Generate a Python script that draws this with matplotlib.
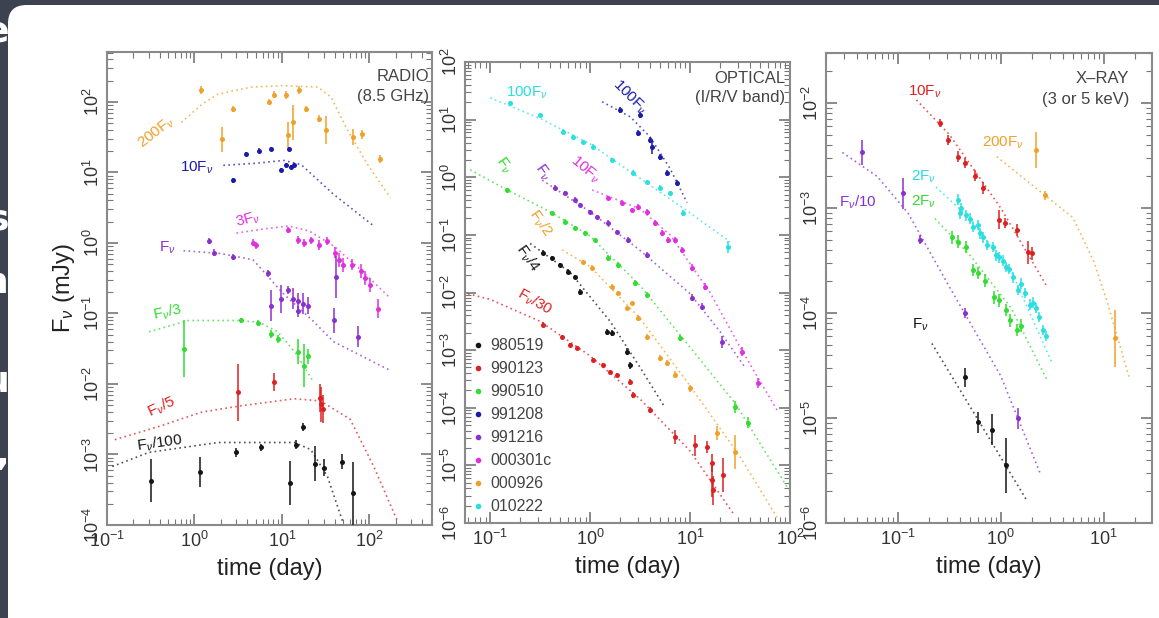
import numpy as np
import matplotlib
matplotlib.use('Agg')
import matplotlib.pyplot as plt
from matplotlib.ticker import LogLocator, NullFormatter
from matplotlib.patches import FancyBboxPatch
from matplotlib.lines import Line2D

plt.rcParams['font.family'] = ['Liberation Sans', 'DejaVu Sans']
plt.rcParams['mathtext.fontset'] = 'custom'
plt.rcParams['mathtext.rm'] = 'Liberation Sans'
plt.rcParams['mathtext.it'] = 'Liberation Sans:italic'
plt.rcParams['mathtext.bf'] = 'Liberation Sans:bold'

## Data (log10 of time in days, log10 of flux in mJy, error in dex)
# colours per burst
C_BLACK = '#151515'    # 980519
C_RED = '#dd2020'      # 990123
C_GREEN = '#30dd30'    # 990510
C_BLUE = '#1c1caa'     # 991208
C_PURPLE = '#8a30d0'   # 991216
C_MAGENTA = '#e22ee0'  # 000301c
C_ORANGE = '#f0a028'   # 000926
C_CYAN = '#28e0e0'     # 010222

legend_names = ['980519', '990123', '990510', '991208', '991216', '000301c', '000926', '010222']
legend_colors = [C_BLACK, C_RED, C_GREEN, C_BLUE, C_PURPLE, C_MAGENTA, C_ORANGE, C_CYAN]

# --- RADIO (8.5 GHz) ---
radio_orange_lt = [0.08, 0.44, 0.31, 0.85, 0.91, 1.05, 1.19, 1.07, 1.125, 1.27, 1.42, 1.50, 1.81, 1.92, 2.125]
radio_orange_lf = [2.17, 1.90, 1.47, 2.00, 2.10, 2.10, 2.17, 1.53, 1.71, 1.90, 1.76, 1.60, 1.50, 1.54, 1.19]
radio_orange_err = [0.06, 0.04, 0.18, 0.04, 0.05, 0.06, 0.06, 0.18, 0.25, 0.04, 0.05, 0.20, 0.11, 0.06, 0.06]
radio_orange_mod_lt = [-0.15, 0.10, 0.27, 0.65, 1.00, 1.41, 1.56, 1.75, 1.98, 2.24]
radio_orange_mod_lf = [1.71, 1.98, 2.11, 2.21, 2.23, 2.21, 2.07, 1.60, 1.11, 0.64]

radio_blue_lt = [0.44, 0.59, 0.74, 0.875, 1.08, 0.99, 1.05, 1.14, 1.10]
radio_blue_lf = [0.886, 1.26, 1.31, 1.33, 1.33, 1.03, 1.10, 1.10, 1.08]
radio_blue_err = [0.03, 0.03, 0.03, 0.03, 0.03, 0.03, 0.03, 0.03, 0.03]
radio_blue_mod_lt = [0.33, 0.70, 1.02, 1.22, 1.59, 2.05]
radio_blue_mod_lf = [1.10, 1.13, 1.17, 1.11, 0.69, 0.24]

radio_magenta_lt = [0.67, 0.70, 1.07, 1.18, 1.25, 1.33, 1.42, 1.52, 1.61, 1.65, 1.70, 1.80, 1.90, 1.95, 2.01, 2.10]
radio_magenta_lf = [0.0, -0.03, 0.186, 0.04, 0.0, 0.04, -0.03, 0.03, -0.14, -0.24, -0.31, -0.31, -0.40, -0.50, -0.60, -0.93]
radio_magenta_err = [0.05, 0.05, 0.04, 0.06, 0.06, 0.05, 0.07, 0.06, 0.08, 0.10, 0.10, 0.08, 0.10, 0.10, 0.10, 0.14]
radio_magenta_mod_lt = [0.48, 0.80, 1.08, 1.31, 1.60, 1.90, 2.22]
radio_magenta_mod_lf = [0.14, 0.20, 0.24, 0.17, -0.05, -0.38, -0.76]

radio_purple_lt = [0.17, 0.22, 0.44, 0.84, 0.875, 0.99, 1.07, 1.125, 1.18, 1.24, 1.30, 1.18, 1.59, 1.62, 1.875]
radio_purple_lf = [0.03, -0.14, -0.20, -0.43, -0.89, -0.79, -0.67, -0.79, -0.83, -0.86, -0.89, -0.97, -1.10, -0.48, -1.33]
radio_purple_err = [0.04, 0.05, 0.04, 0.05, 0.22, 0.20, 0.06, 0.15, 0.12, 0.15, 0.12, 0.08, 0.18, 0.30, 0.15]
radio_purple_mod_lt = [-0.125, 0.30, 0.67, 0.78, 1.00, 1.35, 1.59, 2.24]
radio_purple_mod_lf = [-0.11, -0.15, -0.24, -0.39, -0.70, -1.10, -1.40, -1.81]

radio_green_lt = [-0.125, 0.53, 0.73, 0.875, 0.95, 1.18, 1.25, 1.30]
radio_green_lf = [-1.50, -1.10, -1.14, -1.29, -1.36, -1.54, -1.74, -1.61]
radio_green_err = [0.40, 0.04, 0.04, 0.06, 0.06, 0.18, 0.30, 0.10]
radio_green_mod_lt = [-0.52, -0.07, 0.53, 0.75, 0.95, 1.15, 1.36]
radio_green_mod_lf = [-1.26, -1.10, -1.10, -1.13, -1.26, -1.55, -1.97]

radio_red_lt = [0.50, 0.91, 1.43, 1.45, 1.47]
radio_red_lf = [-2.12, -1.97, -2.20, -2.29, -2.35]
radio_red_err = [0.41, 0.13, 0.20, 0.25, 0.20]
radio_red_mod_lt = [-0.91, -0.40, 0.08, 0.53, 1.14, 1.44, 1.78, 2.05, 2.33]
radio_red_mod_lf = [-2.79, -2.60, -2.40, -2.31, -2.21, -2.24, -2.50, -3.17, -3.97]

radio_black_lt = [-0.50, 0.06, 0.47, 0.76, 1.09, 1.16, 1.24, 1.375, 1.48, 1.69, 1.81]
radio_black_lf = [-3.37, -3.25, -2.97, -2.90, -3.40, -2.86, -2.61, -3.13, -3.19, -3.10, -3.55]
radio_black_err = [0.30, 0.21, 0.06, 0.05, 0.31, 0.06, 0.05, 0.25, 0.12, 0.10, 0.45]
radio_black_mod_lt = [-0.94, -0.52, 0.27, 1.14, 1.33, 1.52, 1.70]
radio_black_mod_lf = [-3.17, -2.97, -2.83, -2.83, -2.93, -3.31, -3.97]

# --- OPTICAL (I/R/V band) ---
opt_cyan_lt = [-0.80, -0.50, -0.27, -0.17, -0.07, 0.03, 0.22, 0.43, 0.57, 0.70, 0.80, 0.93, 1.38]
opt_cyan_lf = [1.29, 1.08, 0.79, 0.70, 0.61, 0.53, 0.30, 0.08, -0.08, -0.18, -0.27, -0.62, -1.21]
opt_cyan_err = [0.04, 0.04, 0.04, 0.04, 0.04, 0.04, 0.04, 0.04, 0.04, 0.04, 0.04, 0.05, 0.10]
opt_cyan_mod_lt = [-1.0, -0.5, 0.0, 0.5, 1.0, 1.4]
opt_cyan_mod_lf = [1.38, 1.02, 0.58, -0.02, -0.62, -1.12]

opt_blue_lt = [0.30, 0.50, 0.48, 0.60, 0.62, 0.70, 0.77, 0.87]
opt_blue_lf = [1.17, 1.08, 0.77, 0.65, 0.53, 0.35, 0.08, -0.10]
opt_blue_err = [0.05, 0.05, 0.05, 0.05, 0.12, 0.05, 0.05, 0.05]
opt_blue_mod_lt = [0.12, 0.40, 0.60, 0.80, 0.97]
opt_blue_mod_lf = [1.31, 1.05, 0.70, 0.15, -0.44]

opt_purple_lt = [-0.35, -0.25, -0.15, -0.10, 0.0, 0.07, 0.18, 0.27, 0.38, 0.57, 1.02, 1.12, 1.32]
opt_purple_lf = [-0.18, -0.27, -0.39, -0.48, -0.60, -0.69, -0.79, -0.95, -1.09, -1.35, -2.09, -2.25, -2.86]
opt_purple_err = [0.04, 0.04, 0.04, 0.04, 0.04, 0.04, 0.04, 0.04, 0.05, 0.05, 0.06, 0.06, 0.10]
opt_purple_mod_lt = [-0.48, 0.0, 0.5, 1.0, 1.3, 1.55]
opt_purple_mod_lf = [-0.05, -0.60, -1.27, -2.02, -2.68, -3.30]

opt_magenta_lt = [0.18, 0.32, 0.42, 0.48, 0.57, 0.65, 0.72, 0.78, 0.85, 0.92, 1.02, 1.15, 1.52, 1.68]
opt_magenta_lf = [-0.36, -0.44, -0.57, -0.51, -0.60, -0.79, -0.97, -1.09, -1.09, -1.26, -1.57, -1.90, -3.03, -3.57]
opt_magenta_err = [0.04, 0.04, 0.04, 0.05, 0.05, 0.05, 0.05, 0.05, 0.05, 0.05, 0.06, 0.06, 0.08, 0.08]
opt_magenta_mod_lt = [0.02, 0.5, 0.8, 1.2, 1.5, 1.87]
opt_magenta_mod_lf = [-0.22, -0.55, -1.00, -2.00, -2.95, -4.04]

opt_green_lt = [-0.83, -0.38, -0.25, -0.15, -0.05, 0.05, 0.18, 0.28, 0.45, 0.57, 0.90, 1.45, 1.58]
opt_green_lf = [-0.22, -0.62, -0.77, -0.88, -0.97, -1.09, -1.40, -1.52, -1.83, -2.04, -2.79, -3.99, -4.26]
opt_green_err = [0.04, 0.04, 0.04, 0.04, 0.04, 0.04, 0.05, 0.05, 0.05, 0.05, 0.06, 0.10, 0.10]
opt_green_mod_lt = [-1.2, -0.83, -0.4, 0.0, 0.5, 1.0, 1.45, 1.97]
opt_green_mod_lf = [0.13, -0.22, -0.60, -1.02, -1.88, -2.95, -3.92, -5.37]

opt_orange_lt = [-0.07, 0.02, 0.22, 0.28, 0.37, 0.42, 0.48, 0.57, 0.70, 0.77, 0.85, 1.00, 1.27, 1.45]
opt_orange_lf = [-1.47, -1.57, -1.90, -2.01, -2.27, -2.18, -2.44, -2.77, -3.14, -3.22, -3.43, -3.66, -4.44, -4.77]
opt_orange_err = [0.04, 0.04, 0.04, 0.04, 0.04, 0.04, 0.05, 0.05, 0.05, 0.05, 0.06, 0.06, 0.12, 0.30]
opt_orange_mod_lt = [-0.28, 0.0, 0.5, 1.0, 1.5, 1.87]
opt_orange_mod_lf = [-1.26, -1.55, -2.45, -3.62, -4.85, -5.90]

opt_black_lt = [-0.47, -0.38, -0.30, -0.22, -0.15, -0.10, 0.17, 0.22, 0.37, 0.40]
opt_black_lf = [-1.31, -1.40, -1.52, -1.64, -1.73, -1.99, -2.68, -2.70, -3.03, -3.26]
opt_black_err = [0.04, 0.04, 0.04, 0.04, 0.04, 0.05, 0.05, 0.05, 0.06, 0.06]
opt_black_mod_lt = [-0.6, -0.2, 0.2, 0.5, 0.75]
opt_black_mod_lf = [-1.15, -1.65, -2.50, -3.30, -4.00]

opt_red_lt = [-0.47, -0.28, -0.20, -0.13, 0.03, 0.13, 0.20, 0.27, 0.40, 0.43, 0.60, 0.85, 1.05, 1.17, 1.22, 1.22, 1.23, 1.33]
opt_red_lf = [-2.56, -2.77, -2.91, -2.96, -3.17, -3.26, -3.38, -3.43, -3.55, -3.78, -4.04, -4.51, -4.65, -4.68, -4.96, -5.25, -5.43, -5.17]
opt_red_err = [0.04, 0.04, 0.04, 0.04, 0.04, 0.04, 0.04, 0.04, 0.05, 0.05, 0.05, 0.12, 0.18, 0.10, 0.15, 0.30, 0.25, 0.30]
opt_red_mod_lt = [-1.27, -1.0, -0.5, 0.0, 0.5, 1.0, 1.43]
opt_red_mod_lf = [-2.00, -2.12, -2.50, -3.10, -3.85, -4.75, -5.83]

# --- X-RAY (3 or 5 keV) ---
xr_red_lt = [-0.59, -0.51, -0.42, -0.35, -0.25, -0.17, -0.02, 0.04, 0.16, 0.26, 0.30]
xr_red_lf = [-2.19, -2.35, -2.51, -2.57, -2.69, -2.81, -3.11, -3.14, -3.21, -3.42, -3.43]
xr_red_err = [0.04, 0.05, 0.05, 0.05, 0.05, 0.06, 0.09, 0.05, 0.06, 0.11, 0.06]
xr_red_mod_lt = [-0.82, -0.5, 0.0, 0.45]
xr_red_mod_lf = [-1.97, -2.30, -3.00, -3.75]

xr_orange_lt = [0.34, 0.43, 1.11]
xr_orange_lf = [-2.45, -2.88, -4.24]
xr_orange_err = [0.17, 0.04, 0.27]
xr_orange_mod_lt = [-0.04, 0.43, 0.70, 0.90, 1.03, 1.25]
xr_orange_mod_lf = [-2.51, -2.88, -3.09, -3.50, -3.88, -4.62]

xr_purple_lt = [-1.35, -0.95, -0.79, -0.35, 0.165]
xr_purple_lf = [-2.47, -2.86, -3.30, -4.00, -5.00]
xr_purple_err = [0.12, 0.15, 0.04, 0.05, 0.10]
xr_purple_mod_lt = [-1.54, -1.2, -0.9, -0.5, 0.0, 0.38]
xr_purple_mod_lf = [-2.47, -2.70, -3.05, -3.75, -4.60, -5.52]

xr_cyan_lt = [-0.42, -0.40, -0.39, -0.34, -0.30, -0.27, -0.22, -0.20, -0.17, -0.13, -0.08, -0.05,
              -0.02, 0.02, 0.05, 0.08, 0.12, 0.17, 0.20, 0.24, 0.28, 0.31, 0.34, 0.37, 0.41, 0.44]
xr_cyan_lf = [-2.92, -3.05, -3.00, -3.07, -3.10, -3.18, -3.16, -3.24, -3.28, -3.35, -3.37, -3.45,
              -3.47, -3.50, -3.56, -3.58, -3.66, -3.78, -3.72, -3.81, -3.92, -3.90, -3.95, -4.04, -4.16, -4.22]
xr_cyan_err = [0.05] * 26
xr_cyan_mod_lt = [-0.63, -0.3, 0.1, 0.5]
xr_cyan_mod_lf = [-2.80, -3.10, -3.60, -4.48]

xr_green_lt = [-0.47, -0.42, -0.34, -0.27, -0.22, -0.15, -0.07, -0.02, 0.05, 0.09, 0.16, 0.20]
xr_green_lf = [-3.28, -3.32, -3.37, -3.59, -3.62, -3.69, -3.85, -3.88, -3.97, -4.07, -4.16, -4.12]
xr_green_err = [0.06] * 12
xr_green_mod_lt = [-0.64, -0.3, 0.1, 0.45]
xr_green_mod_lf = [-3.10, -3.45, -3.95, -4.64]

xr_black_lt = [-0.35, -0.22, -0.09, 0.05]
xr_black_lf = [-4.61, -5.04, -5.11, -5.45]
xr_black_err = [0.09, 0.10, 0.15, 0.26]
xr_black_mod_lt = [-0.67, 0.25]
xr_black_mod_lf = [-4.29, -5.78]


## Helpers
def draw_points(ax, lt, lf, err, color):
    t = np.power(10.0, lt)
    f = np.power(10.0, lf)
    e = np.array(err)
    lo = f - f * np.power(10.0, -e)
    hi = f * np.power(10.0, e) - f
    ax.errorbar(t, f, yerr=[lo, hi], fmt='o', ms=3.6, color=color, ecolor=color,
                elinewidth=1.1, capsize=2.4, capthick=1.1, mew=0, zorder=3)


def draw_model(ax, lt, lf, color):
    ax.plot(np.power(10.0, lt), np.power(10.0, lf), ls=(0, (1, 2.0)), lw=1.2,
            color=color, alpha=0.75, zorder=2)


def setup_axes(ax, xlim, ylim):
    ax.set_xscale('log')
    ax.set_yscale('log')
    ax.set_xlim(xlim)
    ax.set_ylim(ylim)
    for axis in (ax.xaxis, ax.yaxis):
        axis.set_major_locator(LogLocator(base=10, numticks=20))
        axis.set_minor_locator(LogLocator(base=10, subs=np.arange(2, 10), numticks=100))
        axis.set_minor_formatter(NullFormatter())
    ax.tick_params(which='both', direction='in', top=True, right=True, color='#777777')
    ax.tick_params(which='major', length=8, width=1.2, labelsize=13, labelcolor='#333333')
    ax.tick_params(which='minor', length=4, width=0.8)
    ax.tick_params(axis='x', pad=4)
    ax.tick_params(axis='y', pad=3)
    plt.setp(ax.get_yticklabels(), rotation=90, va='center')
    for sp in ax.spines.values():
        sp.set_color('#8a8a8a')
        sp.set_linewidth(1.5)
    ax.set_xlabel('time (day)', fontsize=17, color='#222222', labelpad=5)


def label(ax, x, y, s, color, rot=0, size=11):
    ax.text(x, y, s, color=color, fontsize=size, rotation=rot, ha='center', va='center',
            transform=ax.transAxes, zorder=4)


## Figure (slide background with white card)
W, H = 1159, 618
fig = plt.figure(figsize=(W / 100, H / 100), dpi=100)
fig.patch.set_facecolor('#3d4250')
card = FancyBboxPatch((8 / W, -0.05), 1.2, 1.05 - 5 / H,
                      boxstyle='round,pad=0,rounding_size=0.016', mutation_aspect=W / H,
                      transform=fig.transFigure, facecolor='white', edgecolor='none', zorder=-5)
fig.patches.append(card)

# clipped slide text at the left edge
for ypix, ch in [(32, 'e'), (220, 's'), (283, 'n'), (382, 'u'), (455, ',')]:
    fig.text(9 / W, 1 - ypix / H, ch, color='white', fontsize=26, fontweight='bold',
             ha='right', va='center', family='DejaVu Sans', zorder=-4)

ax1 = fig.add_axes([107 / W, 93 / H, 325 / W, 473 / H])
ax2 = fig.add_axes([465 / W, 95 / H, 325 / W, 461 / H])
ax3 = fig.add_axes([826 / W, 95 / H, 326 / W, 470 / H])

## Panel 1: radio
setup_axes(ax1, (0.1, 520), (1e-4, 510))
ax1.set_ylabel(r'F$_\nu$ (mJy)', fontsize=17, color='#222222', labelpad=4)
for lt, lf, err, mlt, mlf, c in [
        (radio_orange_lt, radio_orange_lf, radio_orange_err, radio_orange_mod_lt, radio_orange_mod_lf, C_ORANGE),
        (radio_blue_lt, radio_blue_lf, radio_blue_err, radio_blue_mod_lt, radio_blue_mod_lf, C_BLUE),
        (radio_magenta_lt, radio_magenta_lf, radio_magenta_err, radio_magenta_mod_lt, radio_magenta_mod_lf, C_MAGENTA),
        (radio_purple_lt, radio_purple_lf, radio_purple_err, radio_purple_mod_lt, radio_purple_mod_lf, C_PURPLE),
        (radio_green_lt, radio_green_lf, radio_green_err, radio_green_mod_lt, radio_green_mod_lf, C_GREEN),
        (radio_red_lt, radio_red_lf, radio_red_err, radio_red_mod_lt, radio_red_mod_lf, C_RED),
        (radio_black_lt, radio_black_lf, radio_black_err, radio_black_mod_lt, radio_black_mod_lf, C_BLACK)]:
    draw_model(ax1, mlt, mlf, c)
    draw_points(ax1, lt, lf, err, c)

label(ax1, 0.154, 0.829, r'200F$_\nu$', C_ORANGE, rot=38)
label(ax1, 0.277, 0.755, r'10F$_\nu$', C_BLUE)
label(ax1, 0.434, 0.645, r'3F$_\nu$', C_MAGENTA, rot=15)
label(ax1, 0.185, 0.586, r'F$_\nu$', C_PURPLE)
label(ax1, 0.185, 0.450, r'F$_\nu$/3', C_GREEN, rot=12)
label(ax1, 0.169, 0.249, r'F$_\nu$/5', C_RED, rot=25)
label(ax1, 0.163, 0.173, r'F$_\nu$/100', C_BLACK, rot=8)
ax1.text(0.99, 0.948, 'RADIO', transform=ax1.transAxes, ha='right', va='center', fontsize=12, color='#444444')
ax1.text(0.99, 0.905, '(8.5 GHz)', transform=ax1.transAxes, ha='right', va='center', fontsize=12, color='#444444')

## Panel 2: optical
setup_axes(ax2, (0.056, 100), (1e-6, 100))
for lt, lf, err, mlt, mlf, c in [
        (opt_cyan_lt, opt_cyan_lf, opt_cyan_err, opt_cyan_mod_lt, opt_cyan_mod_lf, C_CYAN),
        (opt_blue_lt, opt_blue_lf, opt_blue_err, opt_blue_mod_lt, opt_blue_mod_lf, C_BLUE),
        (opt_purple_lt, opt_purple_lf, opt_purple_err, opt_purple_mod_lt, opt_purple_mod_lf, C_PURPLE),
        (opt_magenta_lt, opt_magenta_lf, opt_magenta_err, opt_magenta_mod_lt, opt_magenta_mod_lf, C_MAGENTA),
        (opt_green_lt, opt_green_lf, opt_green_err, opt_green_mod_lt, opt_green_mod_lf, C_GREEN),
        (opt_orange_lt, opt_orange_lf, opt_orange_err, opt_orange_mod_lt, opt_orange_mod_lf, C_ORANGE),
        (opt_black_lt, opt_black_lf, opt_black_err, opt_black_mod_lt, opt_black_mod_lf, C_BLACK),
        (opt_red_lt, opt_red_lf, opt_red_err, opt_red_mod_lt, opt_red_mod_lf, C_RED)]:
    draw_model(ax2, mlt, mlf, c)
    draw_points(ax2, lt, lf, err, c)

label(ax2, 0.19, 0.933, r'100F$_\nu$', C_CYAN)
label(ax2, 0.508, 0.924, r'100F$_\nu$', C_BLUE, rot=-45)
label(ax2, 0.117, 0.777, r'F$_\nu$', C_GREEN, rot=-55)
label(ax2, 0.237, 0.761, r'F$_\nu$', C_PURPLE, rot=-55)
label(ax2, 0.369, 0.766, r'10F$_\nu$', C_MAGENTA, rot=-40)
label(ax2, 0.231, 0.651, r'F$_\nu$/2', C_ORANGE, rot=-55)
label(ax2, 0.191, 0.575, r'F$_\nu$/4', C_BLACK, rot=-55)
label(ax2, 0.215, 0.479, r'F$_\nu$/30', C_RED, rot=-30)
ax2.text(0.985, 0.965, 'OPTICAL', transform=ax2.transAxes, ha='right', va='center', fontsize=12, color='#444444')
ax2.text(0.985, 0.924, '(I/R/V band)', transform=ax2.transAxes, ha='right', va='center', fontsize=12, color='#444444')

handles = [Line2D([], [], ls='none', marker='o', ms=3, color=c) for c in legend_colors]
leg = ax2.legend(handles, legend_names, loc='lower left', bbox_to_anchor=(-0.01, -0.005),
                 frameon=False, fontsize=11.5, handlelength=0.6, handletextpad=0.5,
                 labelspacing=0.5, borderaxespad=0.3)
for txt in leg.get_texts():
    txt.set_color('#444444')

## Panel 3: X-ray
setup_axes(ax3, (0.02, 29.5), (1e-6, 0.030))
for lt, lf, err, mlt, mlf, c in [
        (xr_red_lt, xr_red_lf, xr_red_err, xr_red_mod_lt, xr_red_mod_lf, C_RED),
        (xr_orange_lt, xr_orange_lf, xr_orange_err, xr_orange_mod_lt, xr_orange_mod_lf, C_ORANGE),
        (xr_purple_lt, xr_purple_lf, xr_purple_err, xr_purple_mod_lt, xr_purple_mod_lf, C_PURPLE),
        (xr_cyan_lt, xr_cyan_lf, xr_cyan_err, xr_cyan_mod_lt, xr_cyan_mod_lf, C_CYAN),
        (xr_green_lt, xr_green_lf, xr_green_err, xr_green_mod_lt, xr_green_mod_lf, C_GREEN),
        (xr_black_lt, xr_black_lf, xr_black_err, xr_black_mod_lt, xr_black_mod_lf, C_BLACK)]:
    draw_model(ax3, mlt, mlf, c)
    draw_points(ax3, lt, lf, err, c)

label(ax3, 0.304, 0.917, r'10F$_\nu$', C_RED)
label(ax3, 0.543, 0.809, r'200F$_\nu$', C_ORANGE)
label(ax3, 0.298, 0.736, r'2F$_\nu$', C_CYAN)
label(ax3, 0.298, 0.683, r'2F$_\nu$', C_GREEN)
label(ax3, 0.098, 0.683, r'F$_\nu$/10', C_PURPLE)
label(ax3, 0.288, 0.421, r'F$_\nu$', C_BLACK)
ax3.text(0.93, 0.945, 'X\u2013RAY', transform=ax3.transAxes, ha='right', va='center', fontsize=12, color='#444444')
ax3.text(0.93, 0.902, '(3 or 5 keV)', transform=ax3.transAxes, ha='right', va='center', fontsize=12, color='#444444')

plt.savefig('out.png', dpi=100, facecolor=fig.get_facecolor())
